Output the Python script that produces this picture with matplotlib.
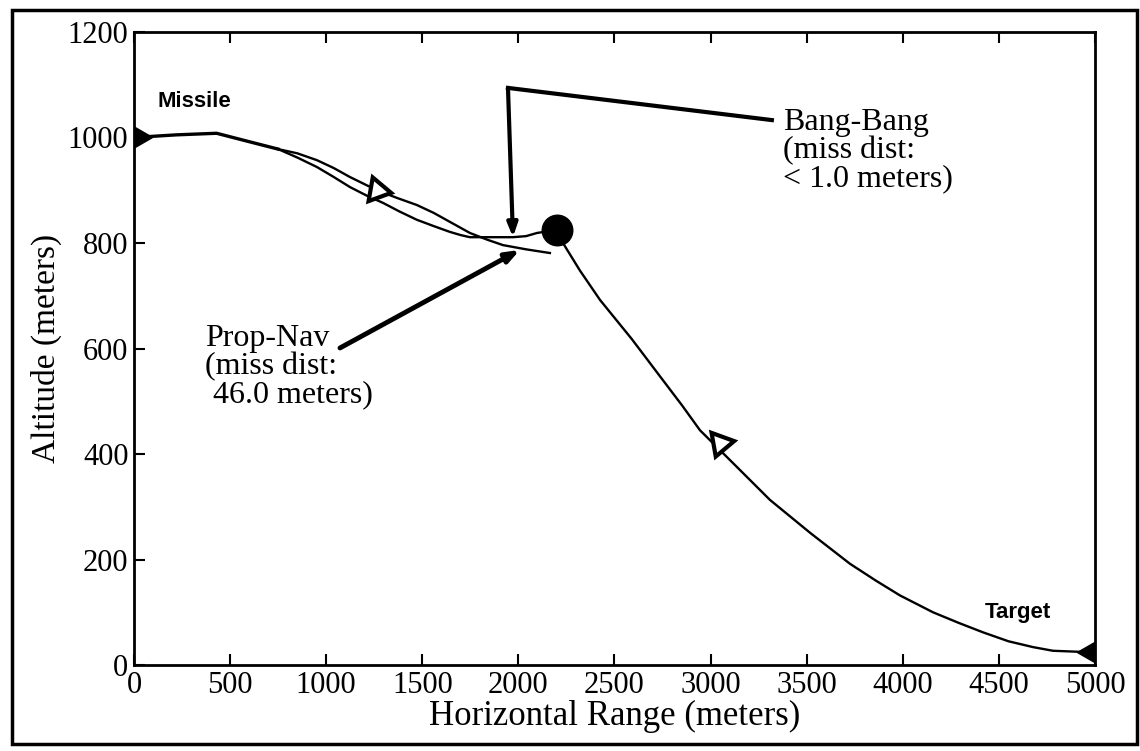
import numpy as np
import matplotlib.pyplot as plt
from matplotlib.patches import Rectangle

# flight paths (meters)
common_x = [0, 220, 430, 600, 750]
common_y = [1000, 1005, 1008, 992, 978]

propnav_x = [750, 850, 952, 1040, 1124, 1264, 1372, 1472, 1560, 1644, 1748, 1840, 1920, 2040, 2164]
propnav_y = [978, 970, 957, 942, 925, 900, 885, 872, 857, 840, 819, 806, 796, 788, 781]

bangbang_x = [750, 850, 952, 1040, 1124, 1210, 1296, 1380, 1472, 1560, 1644, 1700, 1748, 1860, 1972, 2040, 2097, 2150, 2201]
bangbang_y = [978, 962, 944, 925, 906, 890, 876, 860, 844, 832, 821, 815, 811, 811, 811, 813, 819, 822, 825]

target_x = [5000, 4922, 4781, 4677, 4550, 4417, 4290, 4157, 3985, 3860, 3725, 3520,
            3309, 3130, 2945, 2852, 2752, 2590, 2425, 2320, 2232, 2201]
target_y = [25, 25, 27, 34, 45, 62, 80, 100, 132, 160, 192, 250,
            313, 378, 445, 492, 540, 618, 692, 748, 800, 825]

intercept = (2201, 825)
missile_mark = (1264, 900)
target_mark = (3049, 420)

x_ticks = [0, 500, 1000, 1500, 2000, 2500, 3000, 3500, 4000, 4500, 5000]
y_ticks = [0, 200, 400, 600, 800, 1000, 1200]

serif = "Liberation Serif"
sans = "Liberation Sans"

fig = plt.figure(figsize=(11.4, 7.51), dpi=100)
ax = fig.add_axes([0.1175, 0.1145, 0.8430, 0.8429])

# outer box round the whole figure
fig.patches.append(Rectangle((12 / 1140, 1 - 744 / 751), 1125 / 1140, 734 / 751,
                             transform=fig.transFigure, fill=False, lw=2.5, ec="black"))

lw = 1.7
ax.plot(common_x, common_y, color="black", lw=2.4, solid_joinstyle="round")
ax.plot(propnav_x, propnav_y, color="black", lw=lw, solid_joinstyle="round")
ax.plot(bangbang_x, bangbang_y, color="black", lw=lw, solid_joinstyle="round")
ax.plot(target_x, target_y, color="black", lw=lw, solid_joinstyle="round")

# start markers (half clipped by the axes)
ax.plot(0, 1000, marker=(3, 0, -90), color="black", ms=26)
ax.plot(5000, 25, marker=(3, 0, 90), color="black", ms=26)

# direction markers along the paths
ax.plot(*missile_mark, marker=(3, 0, -100), mfc="white", mec="black", mew=3, ms=20)
ax.plot(*target_mark, marker=(3, 0, 40), mfc="white", mec="black", mew=3, ms=20)

ax.plot(*intercept, marker="o", color="black", ms=22)

# annotations
ax.text(120, 1069, "Missile", family=sans, fontsize=16, fontweight="bold", va="center")
ax.text(4428, 99, "Target", family=sans, fontsize=16, fontweight="bold", va="center")

ax.plot([3319, 1946], [1033, 1094], color="black", lw=3)
ax.annotate("", xy=(1972, 811), xytext=(1946, 1094),
            arrowprops=dict(arrowstyle="-|>,head_length=0.8,head_width=0.3",
                            color="black", lw=3, shrinkA=0, shrinkB=0))
ax.text(3377, 1056, "Bang-Bang\n(miss dist:\n< 1.0 meters)", family=serif,
        fontsize=23, va="top", ha="left", linespacing=0.95)

ax.annotate("", xy=(2008, 787), xytext=(1072, 601),
            arrowprops=dict(arrowstyle="-|>,head_length=0.8,head_width=0.3",
                            color="black", lw=3.5, shrinkA=0, shrinkB=0))
ax.text(369, 646, "Prop-Nav\n(miss dist:\n 46.0 meters)", family=serif,
        fontsize=23, va="top", ha="left", linespacing=0.95)

ax.set_xlim(0, 5000)
ax.set_ylim(0, 1200)
ax.set_xticks(x_ticks)
ax.set_yticks(y_ticks)
ax.tick_params(direction="in", length=8, width=1.5, top=True, right=False,
               labelsize=22, pad=4)
for lab in ax.get_xticklabels() + ax.get_yticklabels():
    lab.set_family(serif)
for s in ax.spines.values():
    s.set_linewidth(2)

ax.set_xlabel("Horizontal Range (meters)", family=serif, fontsize=25, labelpad=0)
ax.set_ylabel("Altitude (meters)", family=serif, fontsize=24, labelpad=4)

fig.savefig("out.png", dpi=100)
